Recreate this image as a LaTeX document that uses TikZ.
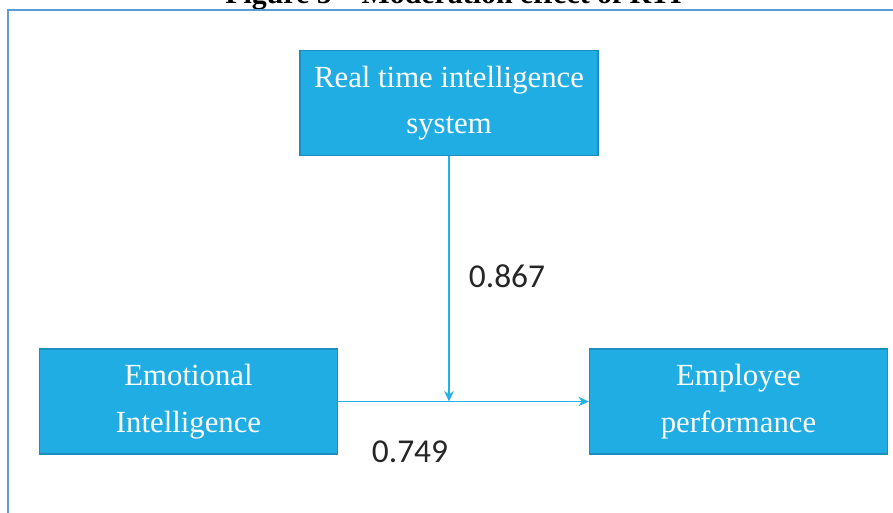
\documentclass[tikz,border=0pt]{standalone}
\usepackage{fontspec}
\newfontfamily\boxfont{Liberation Serif}
\newfontfamily\numfont{Carlito}
\usetikzlibrary{arrows.meta}

\definecolor{boxblue}{HTML}{1FADE3}
\definecolor{boxedge}{HTML}{1C8DBF}
\definecolor{linkblue}{HTML}{23B0E6}
\definecolor{framesky}{HTML}{5B9BD5}

\tikzset{
	varbox/.style={draw=boxedge, fill=boxblue, line width=0.7pt, minimum width=5.96cm, minimum height=2.1cm, align=center, text=white, font=\boxfont\fontsize{17.5}{26.5}\selectfont},
	coef/.style={font=\numfont\fontsize{19}{22}\selectfont, text=black!85},
	link/.style={draw=linkblue, line width=1.1pt, -{Stealth[length=0.21cm,width=0.19cm]}}
}

\begin{document}
\begin{tikzpicture}[x=0.02cm, y=-0.02cm]
	\clip (0,0) rectangle (893,512);
	\useasboundingbox (0,0) rectangle (893,512);

	% caption, cut off at the top
	\node[anchor=base west, inner sep=0, font=\boxfont\bfseries\fontsize{17}{20}\selectfont] (caption) at (225,3) {Figure 5 – Moderation effect of RTI};

	% frame
	\draw[framesky, line width=1.4pt] (900,10) -- (8,10) -- (8,520);

	% variables
	\node[varbox] (rtis) at (449,103) {Real time intelligence\\system};
	\node[varbox] (emo) at (188.5,401.5) {Emotional\\Intelligence};
	\node[varbox] (perf) at (738.5,401.5) {Employee\\performance};

	% junction on the main path
	\coordinate (meet) at (rtis.south |- emo.east);

	% paths
	\draw[link] (emo.east) -- (perf.west);
	\draw[link] (rtis.south) -- (meet);

	% coefficients
	\node[coef] (b867) at (507,276) {0.867};
	\node[coef] (b749) at (410,452) {0.749};
\end{tikzpicture}
\end{document}
